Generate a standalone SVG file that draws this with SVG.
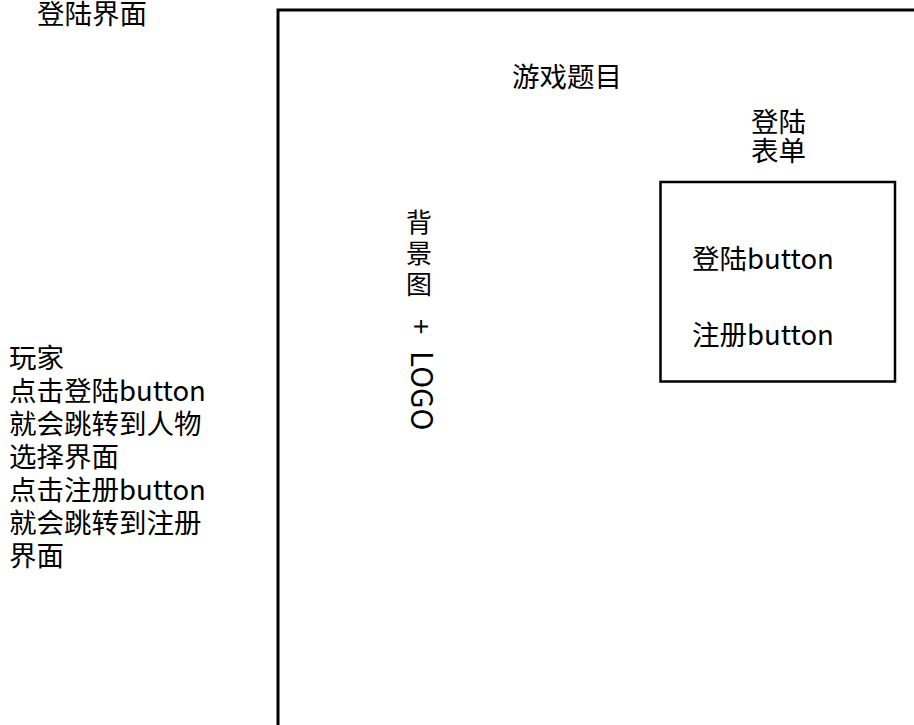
<svg xmlns="http://www.w3.org/2000/svg" width="914" height="725" viewBox="0 0 914 725">
<style>
.t{font-family:"Noto Sans CJK SC","Noto Sans",sans-serif;font-size:27.5px;fill:#000}
.v{font-size:26px}
.frame{fill:none;stroke:#000;stroke-width:3}
.box{fill:none;stroke:#000;stroke-width:2.5}
</style>
<rect width="914" height="725" fill="#fff"/>
<g id="title"><text class="t" x="37" y="24">登陆界面</text></g>
<g id="notes">
<text class="t" x="9" y="368">玩家</text>
<text class="t" x="9" y="401">点击登陆button</text>
<text class="t" x="9" y="434">就会跳转到人物</text>
<text class="t" x="9" y="467">选择界面</text>
<text class="t" x="9" y="500">点击注册button</text>
<text class="t" x="9" y="533">就会跳转到注册</text>
<text class="t" x="9" y="566">界面</text>
</g>
<g id="screen">
<path class="frame" d="M278 730 V10 H920"/>
</g>
<g id="game-title"><text class="t" x="512" y="87">游戏题目</text></g>
<g id="background">
<text class="t v" x="419" y="232" text-anchor="middle">背</text>
<text class="t v" x="419" y="263" text-anchor="middle">景</text>
<text class="t v" x="419" y="294" text-anchor="middle">图</text>
<text class="t" transform="translate(411,319) rotate(90)">+</text>
<text class="t" transform="translate(411,351) rotate(90)" style="font-size:29.5px">LOGO</text>
</g>
<g id="form-label">
<text class="t" x="751" y="132">登陆</text>
<text class="t" x="751" y="161">表单</text>
</g>
<g id="login-form">
<rect class="box" x="660.5" y="182" width="234.5" height="199.5"/>
<text class="t" x="692" y="269">登陆button</text>
<text class="t" x="692" y="345">注册button</text>
</g>
<g id="connectors"></g>
</svg>
